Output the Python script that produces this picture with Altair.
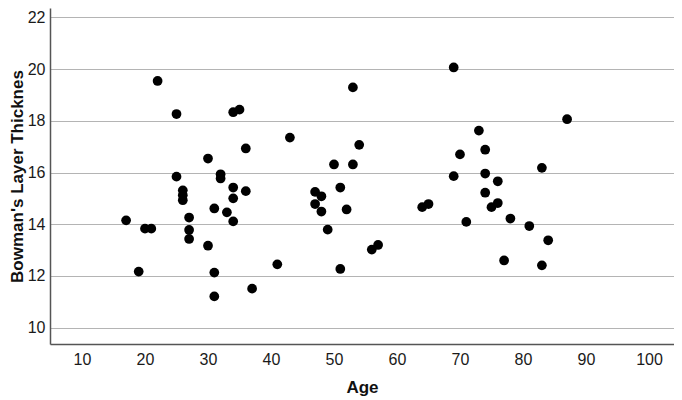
import altair as alt
import pandas as pd

age = [17, 19, 20, 21, 22, 25, 25, 26, 26, 26, 27, 27, 27, 30, 30, 31, 31, 31,
       32, 32, 33, 34, 34, 34, 34, 35, 36, 36, 37, 41, 43, 47, 48, 47, 48, 49,
       50, 51, 51, 52, 53, 53, 54, 56, 57, 64, 65, 69, 69, 70, 71, 73, 74, 74,
       74, 75, 76, 76, 77, 78, 81, 83, 83, 84, 87]
thickness = [14.15, 12.17, 13.83, 13.83, 19.54, 18.26, 15.84, 15.31, 15.12, 14.93,
             14.26, 13.78, 13.43, 16.54, 13.17, 14.61, 12.13, 11.21, 15.93, 15.77,
             14.46, 15.42, 15.00, 14.11, 18.33, 18.43, 16.93, 15.28, 11.51, 12.45,
             17.35, 15.25, 15.08, 14.78, 14.49, 13.79, 16.31, 15.42, 12.27, 14.57,
             19.29, 16.31, 17.07, 13.02, 13.20, 14.66, 14.78, 20.06, 15.86, 16.70,
             14.09, 17.62, 16.88, 15.96, 15.22, 14.66, 14.82, 15.66, 12.60, 14.22,
             13.93, 16.18, 12.41, 13.38, 18.06]

x_ticks = [10, 20, 30, 40, 50, 60, 70, 80, 90, 100]
y_ticks = [10, 12, 14, 16, 18, 20, 22]

df = pd.DataFrame({"Age": age, "Bowman": thickness})

font = "Liberation Sans"

chart = alt.Chart(df).mark_circle(size=95, color="black", opacity=1).encode(
    x=alt.X("Age:Q",
            scale=alt.Scale(domain=[4.92, 103.97], nice=False, zero=False),
            axis=alt.Axis(values=x_ticks, grid=False, ticks=False, title="Age",
                          labelFontSize=16, labelColor="#1a1a1a", labelPadding=7,
                          titleFontSize=17, titleFontWeight="bold", titleColor="#111111",
                          titlePadding=12, domainColor="#555555", domainWidth=1.5,
                          labelFont=font, titleFont=font)),
    y=alt.Y("Bowman:Q",
            scale=alt.Scale(domain=[9.37, 22.36], nice=False, zero=False),
            axis=alt.Axis(values=y_ticks, grid=True, ticks=False,
                          title="Bowman's Layer Thicknes",
                          labelFontSize=16, labelColor="#1a1a1a", labelPadding=5,
                          gridColor="#b4b4b4", gridWidth=1.2,
                          titleFontSize=17, titleFontWeight="bold", titleColor="#111111",
                          titlePadding=1, domainColor="#555555", domainWidth=1.5,
                          labelFont=font, titleFont=font)),
).properties(
    width=624, height=336,
    padding={"left": 42, "top": 0, "right": 0, "bottom": 56},
    autosize="none",
).configure_view(stroke=None)

chart.save("out.html", embed_options={"renderer": "svg", "actions": False})
